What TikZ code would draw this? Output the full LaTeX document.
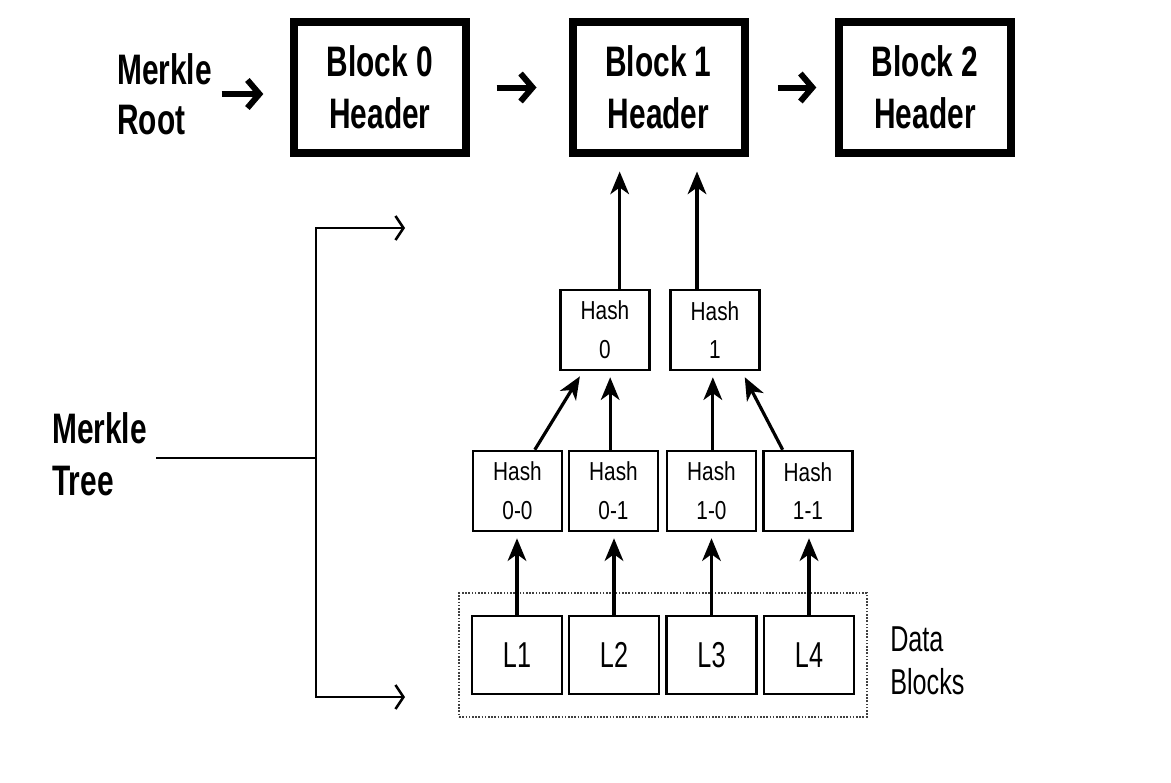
\documentclass[tikz,border=0pt]{standalone}
\usepackage{fontspec}
\newfontfamily\narrowsf[FakeStretch=0.7]{Liberation Sans}
\newfontfamily\hashsf[FakeStretch=0.8]{Liberation Sans}
\usetikzlibrary{arrows.meta,fit}

\begin{document}
\begin{tikzpicture}[x=0.75pt,y=0.75pt,yscale=-1,xscale=1,
		headerbox/.style={draw,line width=6pt,minimum width=129pt,minimum height=98pt,inner sep=0pt,align=center,font=\narrowsf\bfseries\fontsize{32}{39}\selectfont},
		hashbox/.style={draw,line width=1.9pt,minimum width=67pt,minimum height=60pt,inner sep=0pt,align=center,font=\hashsf\fontsize{19.5}{29}\selectfont},
		leafbox/.style={draw,line width=2.2pt,minimum width=67.5pt,minimum height=58.5pt,inner sep=0pt,font=\narrowsf\fontsize{27}{32}\selectfont},
		sidetext/.style={anchor=west,inner sep=0pt,align=left},
		uparrow/.style={line width=2.4pt,-{Stealth[length=17pt,width=14pt,inset=5pt]}},
		chainarrow/.style={line width=4.5pt,-{Straight Barb[length=9pt,width=21pt]}},
		bracearrow/.style={line width=1.9pt,-{Straight Barb[length=6pt,width=18pt]}}]
				\path[fill=white] (0,0) rectangle (1171,782);
				\useasboundingbox (0,0) rectangle (1171,782);

				%Shape: Rectangle [block headers]
				\node[headerbox] (b0) at (380,87.5) {Block 0\\Header};
				\node[headerbox] (b1) at (658.5,87.5) {Block 1\\Header};
				\node[headerbox] (b2) at (925,87.5) {Block 2\\Header};

				%Shape: Rectangle [upper hashes]
				\node[hashbox] (h0) at (605,330) {Hash\\0};
				\node[hashbox] (h1) at (715,330) {Hash\\1};

				%Shape: Rectangle [lower hashes]
				\node[hashbox] (h00) at (517.5,491) {Hash\\0-0};
				\node[hashbox] (h01) at (613.5,491) {Hash\\0-1};
				\node[hashbox] (h10) at (711.5,491) {Hash\\1-0};
				\node[hashbox] (h11) at (808,491) {Hash\\1-1};

				%Shape: Rectangle [data blocks]
				\node[leafbox] (l1) at (517,655) {L1};
				\node[leafbox] (l2) at (614,655) {L2};
				\node[leafbox] (l3) at (711.5,655) {L3};
				\node[leafbox] (l4) at (809,655) {L4};

				%Shape: Rectangle [dotted frame]
				\node[draw=black!75,line width=1.5pt,dash pattern={on 1.2pt off 1.2pt},inner xsep=8.5pt,inner ysep=16pt,fit=(l1)(l4)] (datagroup) {};

				% Text Node
				\node[sidetext,font=\narrowsf\bfseries\fontsize{32}{37.5}\selectfont] (root) at (117,94) {Merkle\\Root};
				% Text Node
				\node[sidetext,font=\narrowsf\bfseries\fontsize{32}{39}\selectfont] (tree) at (52,454) {Merkle\\Tree};
				% Text Node
				\node[sidetext,font=\narrowsf\fontsize{27}{32}\selectfont] (data) at (890,661) {Data\\Blocks};

				%Straight Lines [chain]
				\draw[chainarrow,shorten <=7pt,shorten >=20pt] (root.east) -- (root.east -| b0.west);
				\draw[chainarrow,shorten <=20pt,shorten >=24pt] (b0.east) -- (b1.west);
				\draw[chainarrow,shorten <=22pt,shorten >=14pt] (b1.east) -- (b2.west);

				%Straight Lines [bracket]
				\coordinate (brace) at (316,458);
				\coordinate (bracetop) at (405,228);
				\coordinate (bracebot) at (405,697);
				\draw[line width=1.9pt,shorten <=7pt] (tree.east |- brace) -- (brace);
				\draw[bracearrow] (brace) |- (bracetop);
				\draw[bracearrow] (brace) |- (bracebot);

				%Straight Lines [to block 1]
				\draw[uparrow,shorten >=11pt] ([xshift=11pt]h0.north) -- ([xshift=11pt]h0.north |- b1.south);
				\draw[uparrow,shorten >=11pt] ([xshift=-13.5pt]h1.north) -- ([xshift=-13.5pt]h1.north |- b1.south);

				%Straight Lines [to upper hashes]
				\draw[uparrow,shorten >=4.5pt] ([xshift=13pt]h00.north) -- ([xshift=-16.5pt]h0.south);
				\draw[uparrow,shorten >=4.5pt] ([xshift=-2.5pt]h01.north) -- ([xshift=-2.5pt]h01.north |- h0.south);
				\draw[uparrow,shorten >=4.5pt] ([xshift=1pt]h10.north) -- ([xshift=1pt]h10.north |- h1.south);
				\draw[uparrow,shorten >=5pt] ([xshift=-19pt]h11.north) -- ([xshift=20pt]h1.south);

				%Straight Lines [to lower hashes]
				\draw[uparrow,shorten >=4.5pt] (l1.north) -- (l1.north |- h00.south);
				\draw[uparrow,shorten >=4.5pt] (l2.north) -- (l2.north |- h01.south);
				\draw[uparrow,shorten >=4.5pt] (l3.north) -- (l3.north |- h10.south);
				\draw[uparrow,shorten >=4.5pt] (l4.north) -- (l4.north |- h11.south);

\end{tikzpicture}
\end{document}
